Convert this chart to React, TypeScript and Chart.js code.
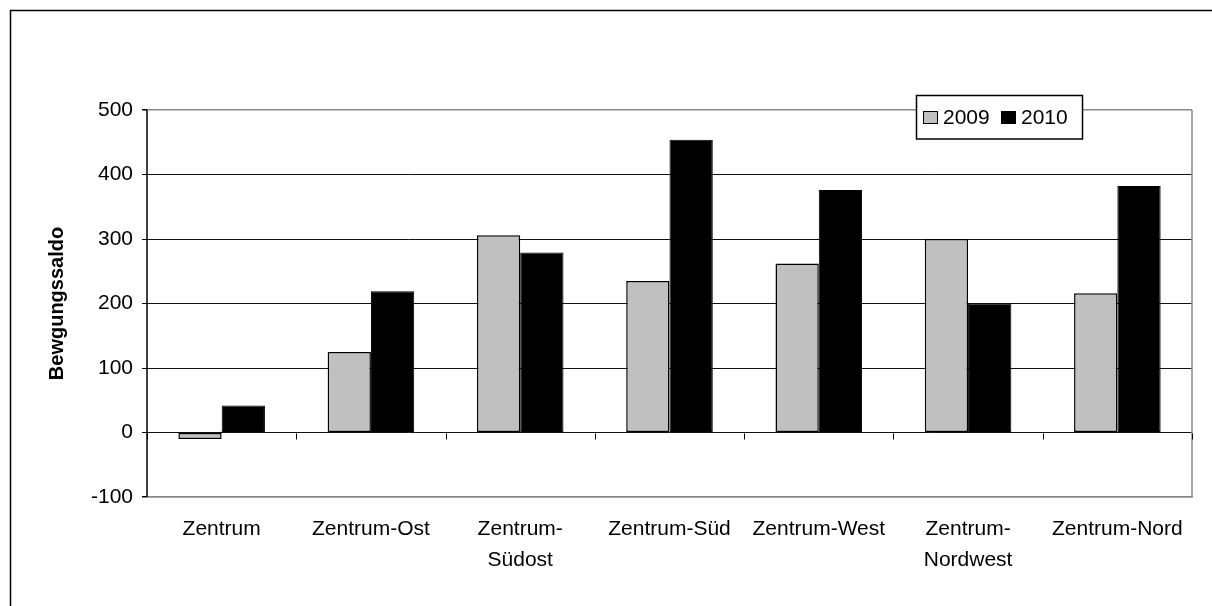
import React, { useEffect, useRef } from "react";
import { Chart, registerables } from "chart.js";

Chart.register(...registerables);

const categories: (string | string[])[] = [
  "Zentrum",
  "Zentrum-Ost",
  ["Zentrum-", "Südost"],
  "Zentrum-Süd",
  "Zentrum-West",
  ["Zentrum-", "Nordwest"],
  "Zentrum-Nord",
];
const values2009 = [-10, 125, 306, 235, 262, 300, 216];
const values2010 = [42, 219, 279, 454, 376, 200, 382];
const seriesLabels = ["2009", "2010"];
const yTitle = "Bewgungssaldo";

const FONT = "'Liberation Sans', Arial, sans-serif";
const FS = 21;

export default function App() {
  const ref = useRef<HTMLCanvasElement | null>(null);

  useEffect(() => {
    const canvas = ref.current;
    if (!canvas) return;

    const decor = {
      id: "decor",
      beforeDraw(chart: any) {
        const { ctx, width, height } = chart;
        ctx.save();
        ctx.fillStyle = "#fff";
        ctx.fillRect(0, 0, width, height);
        ctx.strokeStyle = "#000";
        ctx.lineWidth = 1.5;
        ctx.beginPath();
        ctx.moveTo(10.5, height);
        ctx.lineTo(10.5, 10.5);
        ctx.lineTo(width, 10.5);
        ctx.stroke();
        ctx.restore();
      },
      afterDatasetsDraw(chart: any) {
        const { ctx, chartArea, scales } = chart;
        const y0 = Math.round(scales.y.getPixelForValue(0)) + 0.5;
        ctx.save();
        ctx.strokeStyle = "#888";
        ctx.lineWidth = 1.5;
        ctx.beginPath();
        ctx.moveTo(chartArea.right, chartArea.top);
        ctx.lineTo(chartArea.right, chartArea.bottom);
        ctx.stroke();
        ctx.strokeStyle = "#000";
        ctx.lineWidth = 1;
        const n = categories.length;
        const w = (chartArea.right - chartArea.left) / n;
        ctx.beginPath();
        for (let i = 0; i <= n; i++) {
          const x = Math.round(chartArea.left + i * w) + 0.5;
          ctx.moveTo(x, y0);
          ctx.lineTo(x, y0 + 6);
        }
        ctx.stroke();
        ctx.lineWidth = 1.5;
        ctx.beginPath();
        ctx.moveTo(chartArea.left, chartArea.top);
        ctx.lineTo(chartArea.left, chartArea.bottom);
        ctx.stroke();
        ctx.restore();
      },
      afterDraw(chart: any) {
        const { ctx, chartArea } = chart;
        ctx.save();
        ctx.translate(57, (chartArea.top + chartArea.bottom) / 2);
        ctx.rotate(-Math.PI / 2);
        ctx.font = `bold 20px ${FONT}`;
        ctx.fillStyle = "#000";
        ctx.textAlign = "center";
        ctx.textBaseline = "middle";
        ctx.fillText(yTitle, 0, 0);
        ctx.restore();

        ctx.save();
        ctx.fillStyle = "#fff";
        ctx.fillRect(916, 95, 167, 44);
        ctx.strokeStyle = "#000";
        ctx.lineWidth = 1.5;
        ctx.strokeRect(916.5, 95.5, 166, 43.5);
        ctx.font = `${FS}px ${FONT}`;
        ctx.textBaseline = "middle";
        ctx.textAlign = "left";
        const items = [
          { x: 923, color: "#C0C0C0", text: seriesLabels[0], tx: 943 },
          { x: 1001, color: "#000", text: seriesLabels[1], tx: 1021 },
        ];
        items.forEach((it) => {
          ctx.fillStyle = it.color;
          ctx.fillRect(it.x, 111, 15, 13);
          ctx.lineWidth = 1;
          ctx.strokeStyle = "#000";
          ctx.strokeRect(it.x + 0.5, 111.5, 14, 12);
          ctx.fillStyle = "#000";
          ctx.fillText(it.text, it.tx, 118);
        });
        ctx.restore();
      },
    };

    const chart = new Chart(canvas, {
      type: "bar",
      data: {
        labels: categories as any,
        datasets: [
          {
            label: seriesLabels[0],
            data: values2009,
            backgroundColor: "#C0C0C0",
            borderColor: "#000",
            borderWidth: 1.5,
            borderSkipped: false,
            categoryPercentage: 0.58,
            barPercentage: 1,
          },
          {
            label: seriesLabels[1],
            data: values2010,
            backgroundColor: "#000",
            borderColor: "#000",
            borderWidth: 1,
            borderSkipped: false,
            categoryPercentage: 0.58,
            barPercentage: 1,
          },
        ],
      },
      options: {
        responsive: false,
        animation: false,
        devicePixelRatio: 1,
        layout: { padding: { top: 110, right: 20, left: 0, bottom: 0 } },
        plugins: {
          legend: { display: false },
          tooltip: { enabled: false },
          title: { display: false },
        },
        scales: {
          x: {
            grid: { display: false, drawTicks: false },
            border: { display: true, color: "#888", width: 1.5 },
            ticks: {
              font: { family: FONT, size: FS, lineHeight: 1.48 },
              color: "#000",
              padding: 17,
              maxRotation: 0,
              autoSkip: false,
            },
            afterFit(scale: any) {
              scale.height = 109;
            },
          },
          y: {
            min: -100,
            max: 500,
            ticks: {
              stepSize: 100,
              font: { family: FONT, size: FS },
              color: "#000",
              padding: 9,
            },
            grid: {
              color: (c: any) =>
                c.tick && (c.tick.value === 500 || c.tick.value === -100) ? "#888" : "#111",
              lineWidth: (c: any) =>
                c.tick && (c.tick.value === 500 || c.tick.value === -100) ? 1.5 : 1,
              tickLength: 5,
              tickColor: "#000",
            },
            border: { display: false },
            afterFit(scale: any) {
              scale.width = 147;
            },
          },
        },
      },
      plugins: [decor],
    });

    return () => chart.destroy();
  }, []);

  return (
    <div
      style={{
        position: "absolute",
        left: 0,
        top: 0,
        width: 1212,
        height: 606,
        background: "#fff",
      }}
    >
      <canvas ref={ref} width={1212} height={606} style={{ display: "block" }} />
    </div>
  );
}
